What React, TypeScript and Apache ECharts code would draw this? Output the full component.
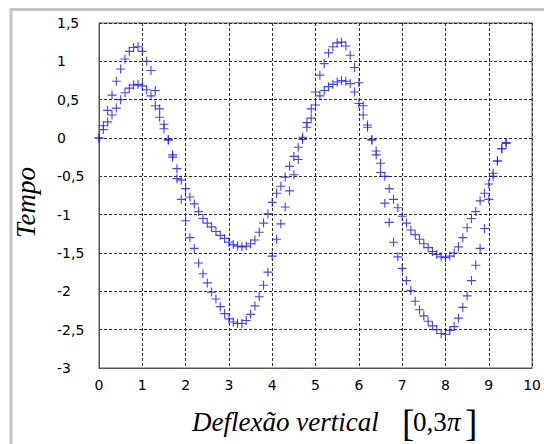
import React, { useEffect, useRef } from "react";
import * as echarts from "echarts";

const xs = [0, 0.1, 0.2, 0.3, 0.4, 0.5, 0.6, 0.7, 0.8, 0.9, 1.0, 1.1, 1.2, 1.3, 1.4, 1.5, 1.6, 1.7, 1.8, 1.9, 2.0, 2.1, 2.2, 2.3, 2.4, 2.5, 2.6, 2.7, 2.8, 2.9, 3.0, 3.1, 3.2, 3.3, 3.4, 3.5, 3.6, 3.7, 3.8, 3.9, 4.0, 4.1, 4.2, 4.3, 4.4, 4.5, 4.6, 4.7, 4.8, 4.9, 5.0, 5.1, 5.2, 5.3, 5.4, 5.5, 5.6, 5.7, 5.8, 5.9, 6.0, 6.1, 6.2, 6.3, 6.4, 6.5, 6.6, 6.7, 6.8, 6.9, 7.0, 7.1, 7.2, 7.3, 7.4, 7.5, 7.6, 7.7, 7.8, 7.9, 8.0, 8.1, 8.2, 8.3, 8.4, 8.5, 8.6, 8.7, 8.8, 8.9, 9.0, 9.1, 9.2, 9.3, 9.4];

const seriesInner = [0, 0.11, 0.21, 0.3, 0.39, 0.5, 0.59, 0.65, 0.69, 0.7, 0.68, 0.63, 0.55, 0.42, 0.27, 0.12, -0.02, -0.22, -0.4, -0.55, -0.66, -0.77, -0.86, -0.96, -1.05, -1.11, -1.16, -1.22, -1.27, -1.31, -1.36, -1.39, -1.41, -1.42, -1.41, -1.38, -1.33, -1.23, -1.11, -0.99, -0.84, -0.72, -0.63, -0.51, -0.37, -0.24, -0.12, 0.01, 0.14, 0.26, 0.43, 0.55, 0.62, 0.67, 0.7, 0.73, 0.75, 0.74, 0.71, 0.6, 0.45, 0.3, 0.14, -0.02, -0.17, -0.33, -0.5, -0.66, -0.8, -0.91, -1.02, -1.11, -1.2, -1.26, -1.32, -1.38, -1.43, -1.48, -1.52, -1.55, -1.56, -1.54, -1.5, -1.42, -1.3, -1.17, -1.05, -0.96, -0.82, -0.72, -0.6, -0.46, -0.3, -0.14, -0.06];

const seriesOuter = [0, 0.16, 0.36, 0.56, 0.74, 0.9, 1.03, 1.13, 1.18, 1.19, 1.13, 1.0, 0.88, 0.62, 0.38, 0.18, -0.03, -0.25, -0.53, -0.8, -1.08, -1.3, -1.44, -1.63, -1.77, -1.89, -2.01, -2.1, -2.2, -2.29, -2.36, -2.4, -2.42, -2.42, -2.38, -2.3, -2.19, -2.07, -1.92, -1.75, -1.54, -1.32, -1.12, -0.9, -0.69, -0.48, -0.28, -0.02, 0.2, 0.38, 0.6, 0.82, 0.97, 1.11, 1.19, 1.24, 1.25, 1.2, 1.08, 0.92, 0.72, 0.42, 0.17, -0.03, -0.22, -0.45, -0.85, -1.1, -1.36, -1.55, -1.7, -1.86, -1.99, -2.13, -2.24, -2.32, -2.39, -2.45, -2.5, -2.55, -2.56, -2.51, -2.46, -2.35, -2.21, -2.06, -1.86, -1.66, -1.44, -1.18, -0.8, -0.5, -0.3, -0.14, -0.07];

const yAxisTitle = "Tempo";
const xAxisTitle = "Deflexão vertical";
const xRangeText = "0,3";

const plusSymbol = "path://M3.5,0H4.5V3.5H8V4.5H4.5V8H3.5V4.5H0V3.5H3.5Z";
const markerColor = "#1818f0";
const serifFam = "'Liberation Serif', 'Times New Roman', serif";

export default function App() {
  const ref = useRef<HTMLDivElement>(null);
  useEffect(() => {
    if (!ref.current) return;
    const chart = echarts.init(ref.current, null, { renderer: "svg" });
    const toPairs = (ys: number[]) => ys.map((y, i) => [xs[i], y]);
    const dash = { color: "#2a2a2a", type: [3, 2], width: 1 };
    chart.setOption({
      animation: false,
      backgroundColor: "#ffffff",
      grid: {
        left: 99,
        top: 23,
        width: 438,
        height: 345,
        show: true,
        borderColor: "#555555",
        borderWidth: 1,
        backgroundColor: "transparent",
      },
      xAxis: {
        type: "value",
        min: 0,
        max: 10,
        interval: 1,
        axisLine: { show: true, onZero: false, lineStyle: { color: "#555555" } },
        axisTick: { show: false },
        axisLabel: {
          color: "#000",
          fontFamily: "DejaVu Sans",
          fontSize: 14,
          margin: 10,
          showMaxLabel: true,
        },
        splitLine: { show: true, lineStyle: dash },
      },
      yAxis: {
        type: "value",
        min: -3,
        max: 1.5,
        interval: 0.5,
        axisLine: { show: true, onZero: false, lineStyle: { color: "#555555" } },
        axisTick: { show: false },
        axisLabel: {
          color: "#000",
          fontFamily: "DejaVu Sans",
          fontSize: 14,
          align: "left",
          margin: 42,
          formatter: (v: number) => String(v).replace(".", ","),
        },
        splitLine: { show: true, lineStyle: dash },
      },
      series: [
        {
          type: "scatter",
          data: toPairs(seriesOuter),
          symbol: plusSymbol,
          symbolSize: 9,
          itemStyle: { color: markerColor },
        },
        {
          type: "scatter",
          data: toPairs(seriesInner),
          symbol: plusSymbol,
          symbolSize: 9,
          itemStyle: { color: markerColor },
        },
      ],
      graphic: [
        {
          type: "line",
          shape: { x1: 11, y1: 9.5, x2: 544, y2: 9.5 },
          style: { stroke: "#c4c4c4", lineWidth: 3 },
        },
        {
          type: "line",
          shape: { x1: 11, y1: 8, x2: 11, y2: 444 },
          style: { stroke: "#c4c4c4", lineWidth: 3 },
        },
        {
          type: "text",
          x: 12,
          y: 238,
          rotation: Math.PI / 2,
          style: {
            text: yAxisTitle,
            fontFamily: serifFam,
            fontStyle: "italic",
            fontSize: 27,
            fill: "#000",
          },
        },
        {
          type: "text",
          x: 192,
          y: 408,
          style: {
            text: xAxisTitle,
            fontFamily: serifFam,
            fontStyle: "italic",
            fontSize: 27,
            fill: "#000",
          },
        },
        {
          type: "text",
          x: 402,
          y: 405,
          style: {
            text: "[",
            fontFamily: serifFam,
            fontSize: 37,
            fill: "#000",
          },
        },
        {
          type: "text",
          x: 413,
          y: 408,
          style: {
            text: xRangeText,
            fontFamily: serifFam,
            fontSize: 27,
            fill: "#000",
          },
        },
        {
          type: "text",
          x: 447,
          y: 408,
          style: {
            text: "π",
            fontFamily: serifFam,
            fontStyle: "italic",
            fontSize: 27,
            fill: "#000",
          },
        },
        {
          type: "text",
          x: 465,
          y: 405,
          style: {
            text: "]",
            fontFamily: serifFam,
            fontSize: 37,
            fill: "#000",
          },
        },
      ],
    });
    return () => chart.dispose();
  }, []);
  return (
    <div
      ref={ref}
      style={{ position: "fixed", left: 0, top: 0, width: 544, height: 444 }}
    />
  );
}
